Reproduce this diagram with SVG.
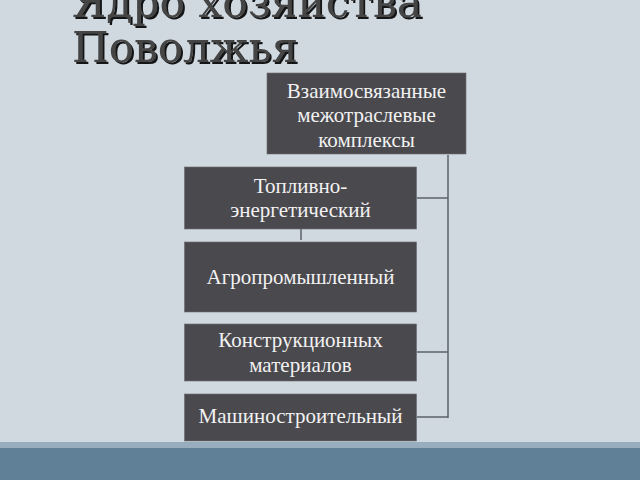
<svg xmlns="http://www.w3.org/2000/svg" width="640" height="480" viewBox="0 0 640 480">
<style>
.node rect{fill:#4a494e;stroke:#6a6c72;stroke-width:0.6}
.node text{fill:#f2f2f2;font-family:"Liberation Serif","Times New Roman",serif;font-size:21px;text-anchor:middle}
.conn{stroke:#5b6068;stroke-width:1.5;fill:none}
.title{font-family:"DejaVu Serif","Liberation Serif",serif;font-size:42px;fill:#454545}
</style>
<defs>
<filter id="shadow" x="-10%" y="-20%" width="120%" height="150%">
<feDropShadow dx="2" dy="2" stdDeviation="0.6" flood-color="#000" flood-opacity="0.9"/>
</filter>
</defs>
<rect x="0" y="0" width="640" height="480" fill="#d1d9e0"/>
<rect x="0" y="442" width="640" height="6" fill="#98aebf"/>
<rect x="0" y="448" width="640" height="32" fill="#5f8096"/>
<g id="title" filter="url(#shadow)">
<text class="title" x="72" y="17" textLength="350" lengthAdjust="spacingAndGlyphs">Ядро хозяйства</text>
<text class="title" x="72" y="62" textLength="226" lengthAdjust="spacingAndGlyphs">Поволжья</text>
</g>
<g id="connectors">
<line class="conn" x1="448" y1="155" x2="448" y2="418"/>
<line class="conn" x1="417" y1="198" x2="448" y2="198"/>
<line class="conn" x1="417" y1="352" x2="448" y2="352"/>
<line class="conn" x1="417" y1="417" x2="448" y2="417"/>
<line class="conn" x1="301" y1="229" x2="301" y2="240"/>
</g>
<g id="node-root" class="node">
<rect x="267" y="73" width="199" height="81"/>
<text x="366.5" y="97.5">Взаимосвязанные</text>
<text x="366.5" y="122">межотраслевые</text>
<text x="366.5" y="146.5">комплексы</text>
</g>
<g id="node-fuel" class="node">
<rect x="184.5" y="167" width="232" height="62"/>
<text x="300.5" y="193.3">Топливно-</text>
<text x="300.5" y="217.3">энергетический</text>
</g>
<g id="node-agro" class="node">
<rect x="184.5" y="242" width="232" height="70"/>
<text x="300.5" y="284">Агропромышленный</text>
</g>
<g id="node-constr" class="node">
<rect x="184.5" y="324" width="232" height="57"/>
<text x="300.5" y="347.3">Конструкционных</text>
<text x="300.5" y="371.7">материалов</text>
</g>
<g id="node-mach" class="node">
<rect x="184.5" y="394" width="232" height="47"/>
<text x="300.5" y="423.3">Машиностроительный</text>
</g>
</svg>
